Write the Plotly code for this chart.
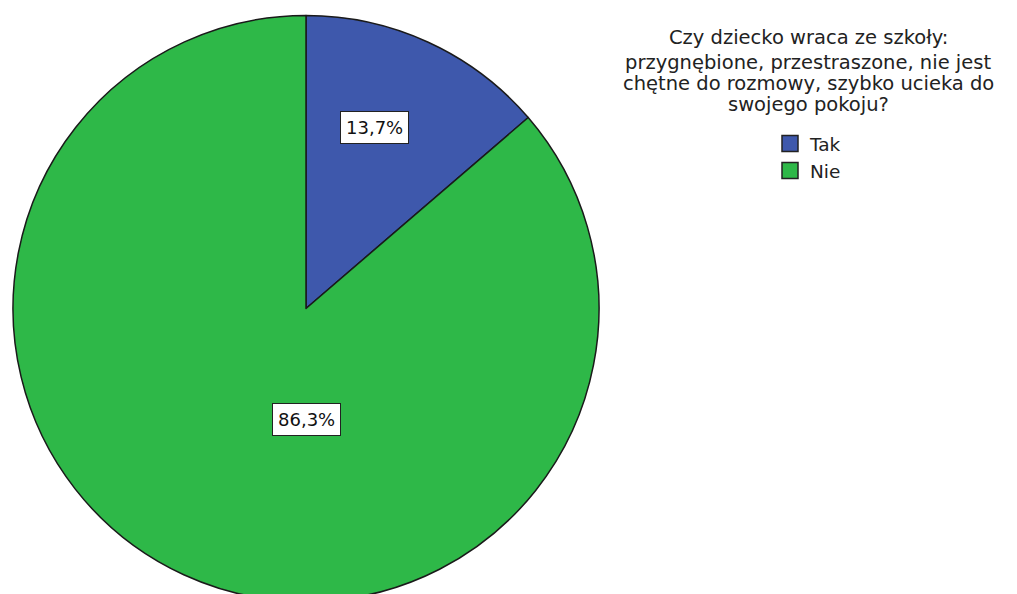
import plotly.graph_objects as go

# data
labels = ["Tak", "Nie"]
values = [13.7, 86.3]
legend_title_lines = [
    "Czy dziecko wraca ze szkoły:",
    "przygnębione, przestraszone, nie jest",
    "chętne do rozmowy, szybko ucieka do",
    "swojego pokoju?",
]

colors = ["#3e58ac", "#2eb848"]
W, H = 1017, 594
FONT = "DejaVu Sans, Verdana, sans-serif"

fig = go.Figure()
fig.add_trace(
    go.Pie(
        labels=labels,
        values=values,
        sort=False,
        direction="clockwise",
        rotation=0,
        textinfo="none",
        hoverinfo="label+percent",
        showlegend=False,
        marker=dict(colors=colors, line=dict(color="#1a1a1a", width=1.5)),
        domain=dict(x=[5 / W, 591 / W], y=[0, 1 - 7 / H]),
    )
)

# legend-only entries so the swatches can be as big as in the original
for lab, col in zip(labels, colors):
    fig.add_trace(
        go.Scatter(
            x=[None], y=[None], mode="markers", name=lab,
            marker=dict(symbol="square", size=17, color=col,
                        line=dict(color="#222", width=1.5)),
        )
    )

# boxed percentage labels (centres in figure px)
label_pos = [(366, 119), (298, 412)]
for v, (px, py) in zip(values, label_pos):
    fig.add_annotation(
        x=px / W, y=1 - py / H, xref="paper", yref="paper",
        xanchor="center", yanchor="middle",
        text=f"{v:.1f}%".replace(".", ","),
        showarrow=False, bgcolor="white", bordercolor="#222", borderwidth=1,
        borderpad=5, font=dict(family=FONT, size=18, color="#111"),
    )

# legend title, one annotation per line to keep the tight line spacing
title_rows = [30, 54, 76, 97]
for line, py in zip(legend_title_lines, title_rows):
    fig.add_annotation(
        x=800 / W, y=1 - py / H, xref="paper", yref="paper",
        xanchor="center", yanchor="middle",
        text=line, showarrow=False,
        font=dict(family=FONT, size=19.5, color="#222"),
    )

fig.update_layout(
    width=W, height=H,
    margin=dict(l=0, r=0, t=0, b=0),
    paper_bgcolor="white",
    plot_bgcolor="white",
    xaxis=dict(visible=False),
    yaxis=dict(visible=False),
    showlegend=True,
    legend=dict(
        x=762 / W, y=1 - 117 / H, xanchor="left", yanchor="top",
        font=dict(family=FONT, size=18.5, color="#222"),
        bgcolor="rgba(0,0,0,0)", tracegroupgap=0,
        itemsizing="trace", itemwidth=30,
    ),
    font=dict(family=FONT),
)

fig.write_html("out.html")
